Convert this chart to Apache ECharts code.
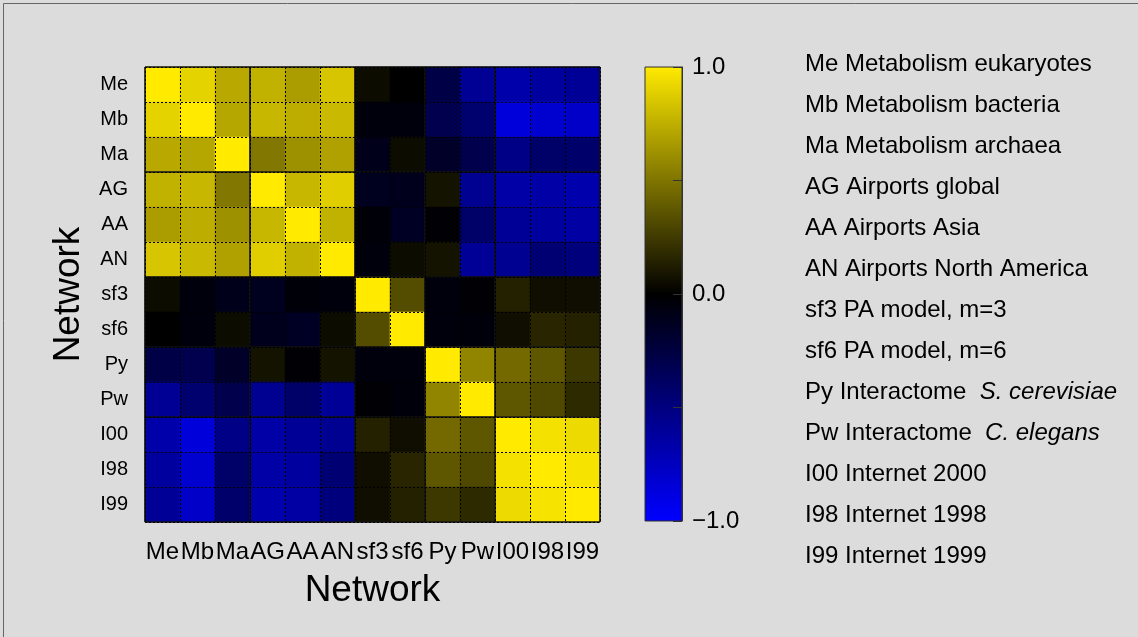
<!DOCTYPE html>
<html>
<head>
<meta charset="utf-8">
<script src="https://cdn.jsdelivr.net/npm/echarts@6/dist/echarts.min.js"></script>
<style>
html,body{margin:0;padding:0;background:#dcdcdc;}
#chart{width:1138px;height:637px;}
</style>
</head>
<body>
<div id="chart"></div>
<script>
// ---- data ----
const networks = ['Me','Mb','Ma','AG','AA','AN','sf3','sf6','Py','Pw','I00','I98','I99'];
// correlation rows (order as networks)
const rowMe  = [ 1.00, 0.90, 0.72, 0.76, 0.67, 0.84, 0.05, 0.00,-0.28,-0.58,-0.67,-0.62,-0.59];
const rowMb  = [ 0.90, 1.00, 0.71, 0.78, 0.74, 0.79,-0.05,-0.05,-0.31,-0.43,-0.86,-0.81,-0.79];
const rowMa  = [ 0.72, 0.71, 1.00, 0.51, 0.62, 0.69,-0.10, 0.05,-0.16,-0.30,-0.53,-0.41,-0.42];
const rowAG  = [ 0.76, 0.78, 0.51, 1.00, 0.78, 0.88,-0.12,-0.11, 0.08,-0.57,-0.65,-0.65,-0.68];
const rowAA  = [ 0.67, 0.74, 0.62, 0.78, 1.00, 0.76,-0.03,-0.14,-0.02,-0.41,-0.59,-0.62,-0.64];
const rowAN  = [ 0.84, 0.79, 0.69, 0.88, 0.76, 1.00,-0.05, 0.05, 0.08,-0.59,-0.57,-0.45,-0.49];
const rowSf3 = [ 0.05,-0.05,-0.10,-0.12,-0.03,-0.05, 1.00, 0.33,-0.05,-0.02, 0.14, 0.06, 0.06];
const rowSf6 = [ 0.00,-0.05, 0.05,-0.11,-0.14, 0.05, 0.33, 1.00,-0.05,-0.04, 0.06, 0.16, 0.14];
const rowPy  = [-0.28,-0.31,-0.16, 0.08,-0.02, 0.08,-0.05,-0.05, 1.00, 0.57, 0.45, 0.37, 0.24];
const rowPw  = [-0.58,-0.43,-0.30,-0.57,-0.41,-0.59,-0.02,-0.04, 0.57, 1.00, 0.37, 0.31, 0.18];
const rowI00 = [-0.67,-0.86,-0.53,-0.65,-0.59,-0.57, 0.14, 0.06, 0.45, 0.37, 1.00, 0.96, 0.93];
const rowI98 = [-0.62,-0.81,-0.41,-0.65,-0.62,-0.45, 0.06, 0.16, 0.37, 0.31, 0.96, 1.00, 0.97];
const rowI99 = [-0.59,-0.79,-0.42,-0.68,-0.64,-0.49, 0.06, 0.14, 0.24, 0.18, 0.93, 0.97, 1.00];
const matrixRows = [rowMe,rowMb,rowMa,rowAG,rowAA,rowAN,rowSf3,rowSf6,rowPy,rowPw,rowI00,rowI98,rowI99];
// block boundaries between network families (in cell units)
const groupBreaks = [0, 3, 6, 8, 10, 13];
// legend descriptions
const legendDesc = ['Metabolism eukaryotes','Metabolism bacteria','Metabolism archaea','Airports global',
  'Airports Asia','Airports North America','PA model, m=3','PA model, m=6','Interactome','Interactome',
  'Internet 2000','Internet 1998','Internet 1999'];
const legendItalic = ['','','','','','','','','S. cerevisiae','C. elegans','','',''];
const colorStops = ['#0000ff', '#000000', '#ffea00']; // -1, 0, +1
const colorbarLabels = {'1': '1.0', '0': '0.0', '-1': '\u22121.0'};
const axisTitle = 'Network';

// ---- build ----
const FONT = "'Liberation Sans', Helvetica, Arial, sans-serif";
const heatData = [];
matrixRows.forEach((row, yi) => row.forEach((v, xi) => heatData.push([xi, yi, v])));
const legendText = networks.map((c, i) =>
  c + ' ' + legendDesc[i] + (legendItalic[i] ? '  {i|' + legendItalic[i] + '}' : '')).join('\n');
// colour bar gradient (top = +1, bottom = -1)
const barGradient = new echarts.graphic.LinearGradient(0, 1, 0, 0,
  colorStops.map((c, i) => ({offset: i / (colorStops.length - 1), color: c})));

const chart = echarts.init(document.getElementById('chart'), null, {renderer: 'canvas'});
const option = {
  backgroundColor: '#dcdcdc',
  animation: false,
  textStyle: {fontFamily: FONT, color: '#000'},
  title: {
    left: 805, top: 44, padding: 0,
    text: legendText,
    textStyle: {fontSize: 24, fontWeight: 'normal', color: '#000', lineHeight: 41, fontFamily: FONT,
      rich: {i: {fontStyle: 'italic', fontSize: 24, lineHeight: 41, color: '#000', fontFamily: FONT}}}
  },
  graphic: [{
    type: 'rect', silent: true, z: 100,
    shape: {x: 3.5, y: 3.5, width: 1300, height: 800},
    style: {fill: 'none', stroke: '#666', lineWidth: 1}
  }],
  grid: [
    {left: 145, top: 67, width: 455, height: 455},
    {left: 145, top: 67, width: 455, height: 455},
    {left: 645, top: 67, width: 37, height: 454, show: true,
      backgroundColor: barGradient, borderColor: '#333', borderWidth: 1}
  ],
  xAxis: [
    {gridIndex: 0, type: 'category', data: networks, position: 'bottom',
      axisLine: {show: false}, axisTick: {show: false}, splitLine: {show: false},
      axisLabel: {fontSize: 24, margin: 18, color: '#000', interval: 0, fontFamily: FONT},
      name: axisTitle, nameLocation: 'middle', nameGap: 50,
      nameTextStyle: {fontSize: 37, color: '#000', fontFamily: FONT}},
    {gridIndex: 1, type: 'value', min: 0, max: 13, interval: 1, z: 10,
      axisLine: {show: false}, axisTick: {show: false}, axisLabel: {show: false},
      splitLine: {show: true, lineStyle: {type: [2, 2], color: '#000', width: 1}}},
    {gridIndex: 2, type: 'value', min: 0, max: 1, show: false}
  ],
  yAxis: [
    {gridIndex: 0, type: 'category', data: networks, inverse: true,
      axisLine: {show: false}, axisTick: {show: false}, splitLine: {show: false},
      axisLabel: {fontSize: 20, margin: 17, color: '#000', interval: 0, fontFamily: FONT},
      name: axisTitle, nameLocation: 'middle', nameGap: 58, nameRotate: 90,
      nameTextStyle: {fontSize: 37, color: '#000', fontFamily: FONT}},
    {gridIndex: 1, type: 'value', min: 0, max: 13, interval: 1, inverse: true, z: 10,
      axisLine: {show: false}, axisTick: {show: false}, axisLabel: {show: false},
      splitLine: {show: true, lineStyle: {type: [2, 2], color: '#000', width: 1}}},
    {gridIndex: 2, type: 'value', min: -1, max: 1, interval: 0.5, position: 'right',
      axisLine: {show: true, onZero: false, lineStyle: {color: '#333', width: 1}},
      axisTick: {show: true, inside: true, length: 9, lineStyle: {color: '#333', width: 1}},
      axisLabel: {show: true, margin: 10, fontSize: 24, color: '#000', fontFamily: FONT,
        formatter: v => colorbarLabels[String(v)] || ''},
      splitLine: {show: false}}
  ],
  visualMap: {
    type: 'continuous', min: -1, max: 1, seriesIndex: 0, show: false,
    inRange: {color: colorStops}
  },
  series: [
    {type: 'heatmap', xAxisIndex: 0, yAxisIndex: 0, data: heatData,
      itemStyle: {borderWidth: 0}, progressive: 0, emphasis: {disabled: true}},
    {type: 'line', xAxisIndex: 1, yAxisIndex: 1, data: [[0, 0]], symbol: 'none', silent: true,
      lineStyle: {opacity: 0}, z: 12,
      markLine: {silent: true, symbol: 'none', animation: false,
        label: {show: false},
        lineStyle: {color: '#111', width: 1.6, type: 'solid'},
        emphasis: {disabled: true},
        data: groupBreaks.map(b => ({xAxis: b})).concat(groupBreaks.map(b => ({yAxis: b})))}}
  ]
};
chart.setOption(option);
</script>
</body>
</html>
